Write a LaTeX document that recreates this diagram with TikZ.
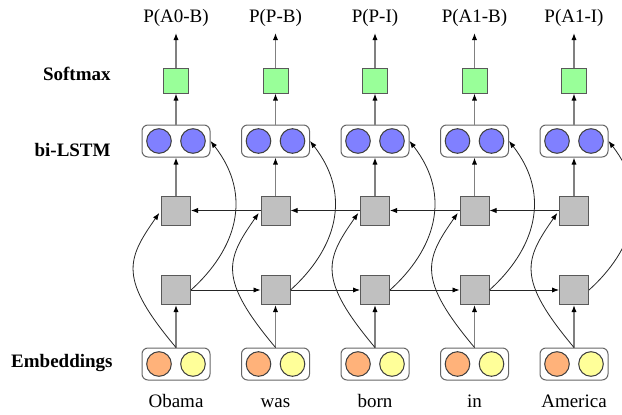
\documentclass[tikz,border=0pt]{standalone}
\usepackage{fontspec}
\setmainfont{Liberation Serif}
\usetikzlibrary{arrows.meta}

\definecolor{cellgray}{RGB}{192,192,192}
\definecolor{smgreen}{RGB}{153,255,153}
\definecolor{lstmblue}{RGB}{128,128,255}
\definecolor{embor}{RGB}{255,178,122}
\definecolor{embyel}{RGB}{255,255,153}

\tikzset{
  cell/.style={draw=black!65, fill=cellgray, minimum size=14.5pt, inner sep=0pt, line width=0.5pt},
  smax/.style={draw=black!65, fill=smgreen, minimum size=12.5pt, inner sep=0pt, line width=0.5pt},
  pairbox/.style={draw=black!60, fill=white, rounded corners=3pt, minimum width=34pt,
                  minimum height=16pt, inner sep=0pt, line width=0.5pt},
  unit/.style={circle, draw=black!75, minimum size=12.3pt, inner sep=0pt, line width=0.5pt},
  tip/.style={-{Latex[length=3.5pt,width=2.6pt,color=black]}},
  vflow/.style={tip, draw=black!50, line width=0.6pt},
  link/.style={tip, draw=black!85, line width=0.4pt},
  rowlabel/.style={anchor=base east, inner sep=0pt, font=\fontsize{9.5}{11}\selectfont\bfseries},
}

\begin{document}
\begin{tikzpicture}[x=0.5pt, y=0.5pt, font=\fontsize{9.5}{11}\selectfont]
\useasboundingbox (0,0) rectangle (622,414);
\clip (0,0) rectangle (622,414);

% row labels
\node[rowlabel] (lsoft) at (111,334) {Softmax};
\node[rowlabel] (llstm) at (111,258) {bi-LSTM};
\node[rowlabel] (lemb)  at (113,47)  {Embeddings};

% one column per word
\foreach \w/\p [count=\i from 0] in {Obama/P(A0-B), was/P(P-B), born/P(P-I), in/P(A1-B), America/P(A1-I)} {
  \pgfmathsetmacro{\cx}{176+99.5*\i}
  % embedding pair
  \node[pairbox] (e\i) at (\cx,50) {};
  \node[unit, fill=embor]  (ea\i) at (\cx-17,50) {};
  \node[unit, fill=embyel] (eb\i) at (\cx+17,50) {};
  \node[anchor=base] (w\i) at (\cx,7) {\w};
  % forward and backward LSTM cells
  \node[cell] (b\i) at (\cx,124) {};
  \node[cell] (t\i) at (\cx,203.5) {};
  % bi-LSTM output pair
  \node[pairbox] (h\i) at (\cx,273) {};
  \node[unit, fill=lstmblue] (ha\i) at (\cx-17,273) {};
  \node[unit, fill=lstmblue] (hb\i) at (\cx+17,273) {};
  % softmax and output label
  \node[smax] (s\i) at (\cx,333.5) {};
  \coordinate (o\i) at (\cx,381);
  \node[anchor=base] (p\i) at (\cx,392) {\p};

  \draw[vflow] (e\i.north) -- (b\i.south);
  \draw[vflow] (t\i.north) -- (h\i.south);
  \draw[vflow] (h\i.north) -- (s\i.south);
  \draw[vflow] (s\i.north) -- (o\i);

  \draw[link, shorten >=1.5pt] (e\i.north) .. controls +(130:90) and +(235:60) .. (t\i.west);
  \draw[link] (b\i.east) .. controls +(42:60) and +(-52:70) .. (h\i.east);
}

% recurrent connections
\foreach \i [evaluate=\i as \j using int(\i+1)] in {0,...,3} {
  \draw[link] (b\i.east) -- (b\j.west);
  \draw[link] (t\j.west) -- (t\i.east);
}
\end{tikzpicture}
\end{document}
